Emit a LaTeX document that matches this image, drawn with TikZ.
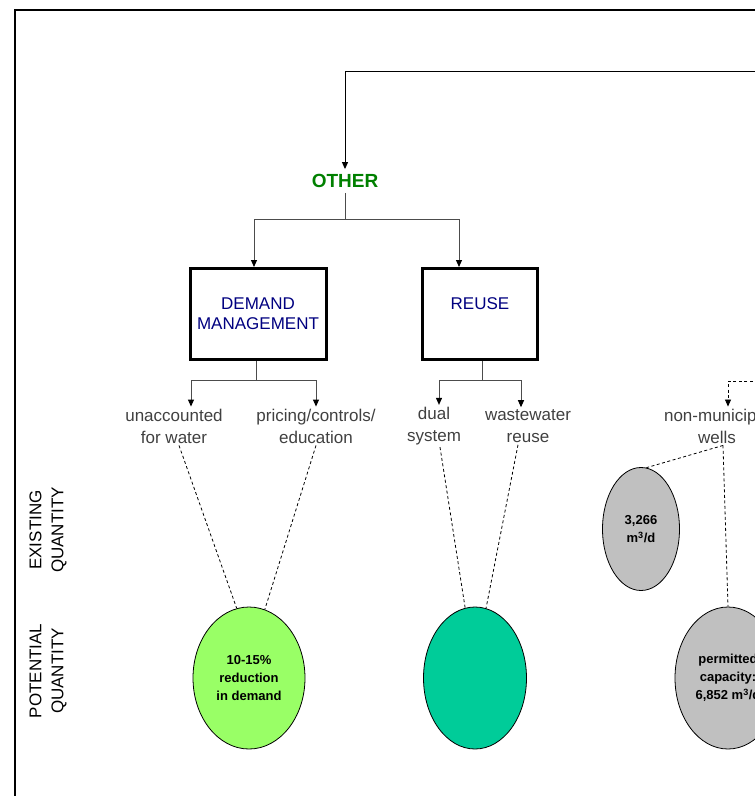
\documentclass[tikz,border=0pt]{standalone}
\usepackage{fontspec}
\setmainfont{Liberation Sans}
\usepackage{tikz}
\usetikzlibrary{arrows.meta,shapes.geometric,positioning}
\usepackage{xcolor}
\definecolor{othergreen}{HTML}{008000}
\definecolor{boxnavy}{HTML}{000080}
\definecolor{labelgrey}{HTML}{404040}
\definecolor{lightgreen}{HTML}{99FF66}
\definecolor{reuseteal}{HTML}{00CC99}
\definecolor{wellgrey}{HTML}{C0C0C0}

\begin{document}
\begin{tikzpicture}[x=1pt, y=-1pt,
    arr/.style={-{Triangle[length=7pt, width=6pt, color=black]}, line width=1pt},
    branch/.style={line width=1pt, draw=black!70},
    optbox/.style={draw, line width=3pt, minimum width=136pt, minimum height=91pt,
      align=center, text=boxnavy, font=\fontsize{17}{20}\selectfont},
    option/.style={align=center, text=labelgrey, inner sep=2pt, font=\fontsize{17}{22}\selectfont},
    qty/.style={ellipse, draw, line width=0.8pt, inner sep=0pt, align=center,
      font=\bfseries\fontsize{13}{18}\selectfont},
    link/.style={dash pattern=on 3pt off 2.5pt, line width=0.8pt},
    rowlabel/.style={rotate=90, align=center, font=\fontsize{17}{22}\selectfont}]
    \useasboundingbox (0,0) rectangle (755,796);
    \clip (0,0) rectangle (755,796);
    % frame
    \draw[line width=2pt] (15,820) |- (780,10);

    \node[font=\bfseries\fontsize{19}{22}\selectfont, text=othergreen, inner sep=5pt] (other) at (345,181) {OTHER};
    \coordinate (feed) at (780,71);
    \draw[arr] (feed) -| (other.north);

    \node[optbox] (demand) at (258,314) {DEMAND\\MANAGEMENT};
    \node[optbox, minimum width=115pt] (reuse) at (480,314) {REUSE\\[0pt]\mbox{}};
    \coordinate (split) at (345,219);
    \draw[branch] (other) -- (split);
    \draw[branch, arr] (split) -| ([xshift=-4pt]demand.north);
    \draw[branch, arr] (split) -| ([xshift=-21pt]reuse.north);

    \node[option] (unacc) at (174,426) {unaccounted\\for water};
    \node[option] (pricing) at (316,426) {pricing/controls/\\education};
    \node[option] (dual) at (434,426) {dual\\system};
    \node[option] (wwreuse) at (528,426) {wastewater\\reuse};
    \node[option] (wells) at (717,426) {non-municipal\\wells};

    \coordinate (dsplit) at (256,380);
    \draw[branch] (demand.south -| dsplit) -- (dsplit);
    \draw[branch, arr] (dsplit) -| ([xshift=17pt]unacc.north);
    \draw[branch, arr] (dsplit) -| (pricing.north);
    \coordinate (rsplit) at (482,380);
    \draw[branch] (reuse.south -| rsplit) -- (rsplit);
    \draw[branch, arr] (rsplit) -| ([xshift=5pt]dual.north);
    \draw[branch, arr] (rsplit) -| ([xshift=-7pt]wwreuse.north);
    \coordinate (wellfeed) at (780,381);
    \draw[arr, link] (wellfeed) -| ([xshift=11pt]wells.north);

    \node[qty, fill=lightgreen, minimum width=112pt, minimum height=142pt] (pdemand) at (249,678) {10-15\%\\reduction\\in demand};
    \node[qty, fill=reuseteal, minimum width=103pt, minimum height=142pt] (preuse) at (475,678) {};
    \node[qty, fill=wellgrey, minimum width=77pt, minimum height=123pt] (exwells) at (641,529) {3,266\\m\textsuperscript{3}/d};
    \node[qty, fill=wellgrey, minimum width=106pt, minimum height=142pt] (pwells) at (728,678) {permitted\\capacity:\\6,852 m\textsuperscript{3}/d};

    \draw[link] ([xshift=5pt]unacc.south) -- (pdemand.100);
    \draw[link] (pricing.south) -- (pdemand.77);
    \draw[link] ([xshift=6pt]dual.south) -- (preuse.98);
    \draw[link] ([xshift=-10pt]wwreuse.south) -- (preuse.81);
    \draw[link] ([xshift=6pt]wells.south) -- (exwells.85);
    \draw[link] ([xshift=6pt]wells.south) -- (pwells.north);

    \node[rowlabel] (existing) at (48,530) {EXISTING\\QUANTITY};
    \node[rowlabel] (potential) at (48,671) {POTENTIAL\\QUANTITY};
  \end{tikzpicture}
\end{document}
